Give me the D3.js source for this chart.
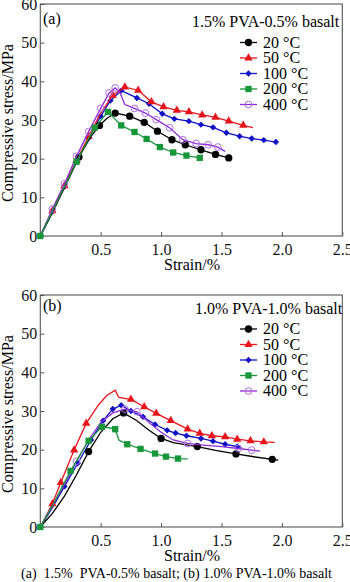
<!DOCTYPE html>
<html>
<head>
<meta charset="utf-8">
<script src="https://cdn.jsdelivr.net/npm/d3@7"></script>
<style>
  body { margin: 0; background: #fff; }
  svg { display: block; }
  text { font-family: "Liberation Serif", "Times New Roman", serif; }
  .caption { white-space: pre; }
</style>
</head>
<body>
<svg id="chart" width="350" height="582"></svg>
<script>
// [strain %, stress MPa, marker 1/0]
const a20 = [[0,0,0],[0.1,6,0],[0.2,12.5,0],[0.32,20.4,1],[0.42,25.8,0],[0.49,28.6,1],[0.55,30.4,0],[0.62,31.8,1],[0.74,31.0,1],[0.86,29.4,1],[0.97,27.1,1],[1.09,24.9,1],[1.20,23.6,1],[1.33,22.3,1],[1.45,21.1,1],[1.56,20.2,1]];
const a50 = [[0,0,0],[0.1,6.5,1],[0.2,13,1],[0.3,19.5,1],[0.4,25.8,1],[0.5,31.8,0],[0.6,36.4,1],[0.7,38.5,1],[0.81,37.7,1],[0.92,34.7,1],[1.02,33.4,1],[1.13,32.5,1],[1.23,32.1,1],[1.34,31.3,1],[1.45,30.7,1],[1.56,29.7,1],[1.68,28.6,1],[1.76,28.0,0]];
const a100 = [[0,0,0],[0.1,6.3,1],[0.2,12.8,1],[0.3,19.3,1],[0.4,25.3,1],[0.5,31,1],[0.58,35,1],[0.67,37.6,1],[0.80,35.7,1],[0.90,34.2,1],[1.01,31.6,1],[1.11,30.3,1],[1.23,29.7,1],[1.33,28.8,1],[1.43,28.1,1],[1.54,26.7,1],[1.65,25.8,1],[1.75,25.2,1],[1.85,24.8,1],[1.95,24.3,1]];
const a200 = [[0,0,1],[0.1,6.4,0],[0.2,12.8,0],[0.30,19.2,1],[0.38,24,0],[0.45,28,1],[0.56,32.1,1],[0.67,28.6,1],[0.78,26.9,1],[0.88,25.1,1],[0.99,23.0,1],[1.10,21.6,1],[1.21,20.8,1],[1.32,20.2,1]];
const a400 = [[0,0,0],[0.1,7,1],[0.2,13.5,1],[0.3,20.6,1],[0.4,27,1],[0.5,33,1],[0.57,37,1],[0.62,38.3,1],[0.66,37,0],[0.70,34,0],[0.78,33,1],[0.87,31.8,1],[0.96,30.1,1],[1.07,28,1],[1.18,24.9,1],[1.29,23.9,1],[1.39,23.6,1],[1.47,23.0,1],[1.53,21.9,0]];

const b20 = [[0,0,0],[0.1,3.5,0],[0.2,8,0],[0.3,13.5,0],[0.40,19.5,1],[0.5,24.5,0],[0.6,28,0],[0.69,29.5,1],[0.8,27.5,0],[0.9,25,0],[1.0,22.9,1],[1.1,21.8,0],[1.3,20.8,1],[1.45,19.8,0],[1.62,18.9,1],[1.78,18.1,0],[1.92,17.5,1],[1.97,17.3,0]];
const b50 = [[0,0,0],[0.1,6,1],[0.17,11.5,1],[0.28,19.9,1],[0.38,26.8,1],[0.48,31.5,0],[0.55,34,0],[0.62,35.4,0],[0.65,33.5,0],[0.75,33,1],[0.86,31.1,1],[0.96,29.4,1],[1.08,27.5,1],[1.22,25.3,1],[1.32,24.2,1],[1.42,23.6,1],[1.53,23.3,1],[1.63,22.7,1],[1.74,22.3,1],[1.85,22.0,1],[1.94,21.9,0]];
const b100 = [[0,0,0],[0.1,5,0],[0.2,10.5,1],[0.31,16.5,1],[0.42,22.5,1],[0.52,27.5,1],[0.6,30.5,1],[0.67,31.5,1],[0.75,30,1],[0.85,28.5,1],[0.95,26.5,1],[1.05,25,1],[1.12,24.3,1],[1.21,23.6,1],[1.33,22.9,1],[1.43,22.2,1],[1.53,21.4,1],[1.63,20.8,1],[1.66,20.6,0]];
const b200 = [[0,0,1],[0.1,5.5,0],[0.25,14.5,1],[0.4,22.3,1],[0.51,25.9,1],[0.58,25.6,0],[0.62,25.3,1],[0.65,22.5,0],[0.72,21.4,1],[0.83,20.2,1],[0.95,19.0,1],[1.04,18.2,1],[1.14,17.7,1],[1.22,17.6,0]];
const b400 = [[0,0,0],[0.1,5.5,0],[0.2,11,0],[0.3,17,1],[0.4,22.5,0],[0.5,27,0],[0.6,29.5,0],[0.7,30.5,1],[0.8,29.8,1],[0.9,27,0],[1.0,24.5,0],[1.1,22.5,0],[1.22,21.6,1],[1.35,21.2,0],[1.5,20.8,0],[1.64,20.3,1],[1.75,19.9,1],[1.82,19.6,0]];

const temps = ["20 °C", "50 °C", "100 °C", "200 °C", "400 °C"];
const xTicks = [0.5, 1.0, 1.5, 2.0, 2.5];
const yTicks = [0, 10, 20, 30, 40, 50, 60];

const styles = [
  { color: "#000000", mark: "circle", fill: "#000000" },
  { color: "#e8141c", mark: "triangle", fill: "#e8141c" },
  { color: "#1010c8", mark: "diamond", fill: "#1010c8" },
  { color: "#17963a", mark: "square", fill: "#17963a" },
  { color: "#8f2bd6", mark: "circle", fill: "none", stroke: "#b06ee6" }
];

const panels = [
  { label: "(a)", title: "1.5% PVA-0.5% basalt", series: [a20, a50, a100, a200, a400], top: 4, bottom: 236, titleX: 192, labelDy: 20, titleDy: 23, legDy: 38.5 },
  { label: "(b)", title: "1.0% PVA-1.0% basalt", series: [b20, b50, b100, b200, b400], top: 295, bottom: 527, titleX: 195, labelDy: 16, titleDy: 19, legDy: 34 }
];

const FS = 16;
const svg = d3.select("#chart");
const x = d3.scaleLinear().domain([0, 2.5]).range([40.3, 342.3]);

function symbolFor(s) {
  if (s.mark === "triangle") return d3.symbol().type(d3.symbolTriangle).size(30)();
  if (s.mark === "diamond") return d3.symbol().type(d3.symbolDiamond2).size(26)();
  if (s.mark === "square") return d3.symbol().type(d3.symbolSquare).size(40)();
  return d3.symbol().type(d3.symbolCircle).size(s.fill === "none" ? 36 : 42)();
}

panels.forEach(p => {
  const y = d3.scaleLinear().domain([0, 60]).range([p.bottom, p.top]);
  const g = svg.append("g");

  // axes, ticks pointing inward
  g.append("g")
    .attr("transform", `translate(0,${p.bottom})`)
    .call(d3.axisBottom(x).tickValues(xTicks).tickFormat(d3.format(".1f")).tickSizeInner(-4).tickSizeOuter(0).tickPadding(8))
    .call(a => a.select(".domain").remove())
    .call(a => a.selectAll("line").attr("stroke", "#555"))
    .call(a => a.selectAll("text").attr("font-size", FS).attr("font-family", "Liberation Serif").attr("fill", "#111"));

  g.append("g")
    .attr("transform", `translate(${x(0)},0)`)
    .call(d3.axisLeft(y).tickValues(yTicks).tickSizeInner(-4).tickSizeOuter(0).tickPadding(3))
    .call(a => a.select(".domain").remove())
    .call(a => a.selectAll("line").attr("stroke", "#555"))
    .call(a => a.selectAll("text").attr("font-size", FS).attr("font-family", "Liberation Serif").attr("fill", "#111"));

  g.append("rect")
    .attr("x", x(0)).attr("y", p.top)
    .attr("width", x(2.5) - x(0)).attr("height", p.bottom - p.top)
    .attr("fill", "none").attr("stroke", "#555").attr("stroke-width", 1.1);

  const line = d3.line().x(d => x(d[0])).y(d => y(d[1]));

  const order = [2, 1, 0, 4, 3];
  order.forEach(i => {
    const s = styles[i];
    const data = p.series[i];
    g.append("path").datum(data)
      .attr("d", line)
      .attr("fill", "none")
      .attr("stroke", s.color)
      .attr("stroke-width", 1.3);
    g.selectAll(null)
      .data(data.filter(d => d[2] === 1))
      .enter()
      .append("path")
      .attr("d", symbolFor(s))
      .attr("transform", d => `translate(${x(d[0])},${y(d[1])})`)
      .attr("fill", s.fill)
      .attr("stroke", s.stroke || "none")
      .attr("stroke-width", 1);
  });

  g.append("text").attr("x", 43).attr("y", p.top + p.labelDy)
    .attr("font-size", FS).text(p.label);

  g.append("text").attr("x", p.titleX).attr("y", p.top + p.titleDy)
    .attr("font-size", FS).text(p.title);

  temps.forEach((t, i) => {
    const cy = p.top + p.legDy + i * 15.5;
    const s = styles[i];
    g.append("line").attr("x1", 240).attr("x2", 257).attr("y1", cy).attr("y2", cy)
      .attr("stroke", s.color).attr("stroke-width", 1.3);
    g.append("path").attr("d", symbolFor(s))
      .attr("transform", `translate(248.5,${cy})`)
      .attr("fill", s.fill).attr("stroke", s.stroke || "none");
    g.append("text").attr("x", 263).attr("y", cy + 5)
      .attr("font-size", FS).text(t);
  });

  g.append("text")
    .attr("transform", `translate(13,${(p.top + p.bottom) / 2 + 3}) rotate(-90)`)
    .attr("text-anchor", "middle").attr("font-size", FS)
    .text("Compressive stress/MPa");

  g.append("text")
    .attr("x", 192).attr("y", p.bottom + 34)
    .attr("text-anchor", "middle").attr("font-size", FS)
    .text("Strain/%");
});

svg.append("text").attr("class", "caption")
  .attr("x", 21).attr("y", 578).attr("font-size", 14)
  .text("(a)  1.5%  PVA-0.5% basalt; (b) 1.0% PVA-1.0% basalt");
</script>
</body>
</html>
